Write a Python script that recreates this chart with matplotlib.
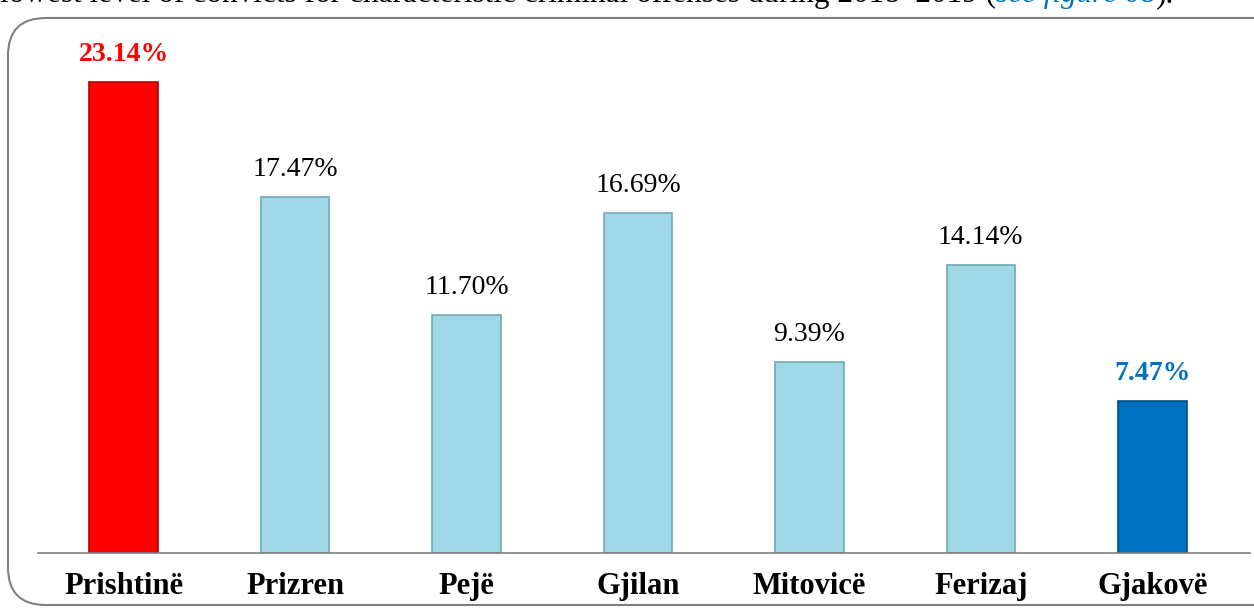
import matplotlib.pyplot as plt
from matplotlib.patches import FancyBboxPatch
from matplotlib.text import Annotation

# Share of convicts by region, 2018-2019
regions = ['Prishtinë', 'Prizren', 'Pejë', 'Gjilan', 'Mitovicë', 'Ferizaj', 'Gjakovë']
shares = [23.14, 17.47, 11.70, 16.69, 9.39, 14.14, 7.47]
bar_colors = ['#FF0000', '#A0D8E8', '#A0D8E8', '#A0D8E8', '#A0D8E8', '#A0D8E8', '#0070C0']
edge_colors = ['#B00000', '#6FA9BA', '#6FA9BA', '#6FA9BA', '#6FA9BA', '#6FA9BA', '#004E8A']
label_colors = ['#FF0000', 'black', 'black', 'black', 'black', 'black', '#0070C0']
label_weights = ['bold', 'normal', 'normal', 'normal', 'normal', 'normal', 'bold']

plt.rcParams['font.family'] = ['Liberation Serif', 'DejaVu Serif']

fig = plt.figure(figsize=(12.54, 6.11), dpi=100)

# rounded frame around the chart (runs off the right edge like the source)
frame = FancyBboxPatch((8 / 1254, 6 / 611), 1300 / 1254, 587 / 611,
                       boxstyle='round,pad=0,rounding_size=0.03',
                       transform=fig.transFigure, fill=False,
                       edgecolor='#808080', linewidth=1.5, clip_on=False,
                       mutation_aspect=1254 / 611)
fig.patches.append(frame)

# clipped line of the surrounding report text
t1 = fig.text(0.0, 1 - 2 / 611,
              'lowest level of convicts for characteristic criminal offenses during 2018–2019 (',
              fontsize=22.5, va='baseline', ha='left')
t2 = fig.add_artist(Annotation('see figure 08', xy=(1, 0), xycoords=t1, va='bottom',
                               ha='left', fontsize=22.5, style='italic', color='#0070C0'))
fig.add_artist(Annotation(').', xy=(1, 0), xycoords=t2, va='bottom', ha='left', fontsize=22.5))

ax = fig.add_axes([38 / 1254, 58 / 611, 1212 / 1254, 509 / 611])
x = range(len(regions))
bars = ax.bar(x, shares, width=0.4, color=bar_colors, edgecolor=edge_colors, linewidth=1.2)

for rect, val, c, w in zip(bars, shares, label_colors, label_weights):
    ax.text(rect.get_x() + rect.get_width() / 2, val + 0.75, f'{val:.2f}%',
            ha='center', va='bottom', fontsize=20, color=c, fontweight=w)

ax.set_xlim(-0.5, 6.57)
ax.set_ylim(0, 25)
ax.set_xticks(list(x))
ax.set_xticklabels(regions, fontsize=22, fontweight='bold')
ax.tick_params(axis='x', length=0, pad=14)
ax.set_yticks([])
for side in ['top', 'right', 'left']:
    ax.spines[side].set_visible(False)
ax.spines['bottom'].set_color('#808080')
ax.spines['bottom'].set_linewidth(1.2)

fig.savefig('out.png', dpi=100)
